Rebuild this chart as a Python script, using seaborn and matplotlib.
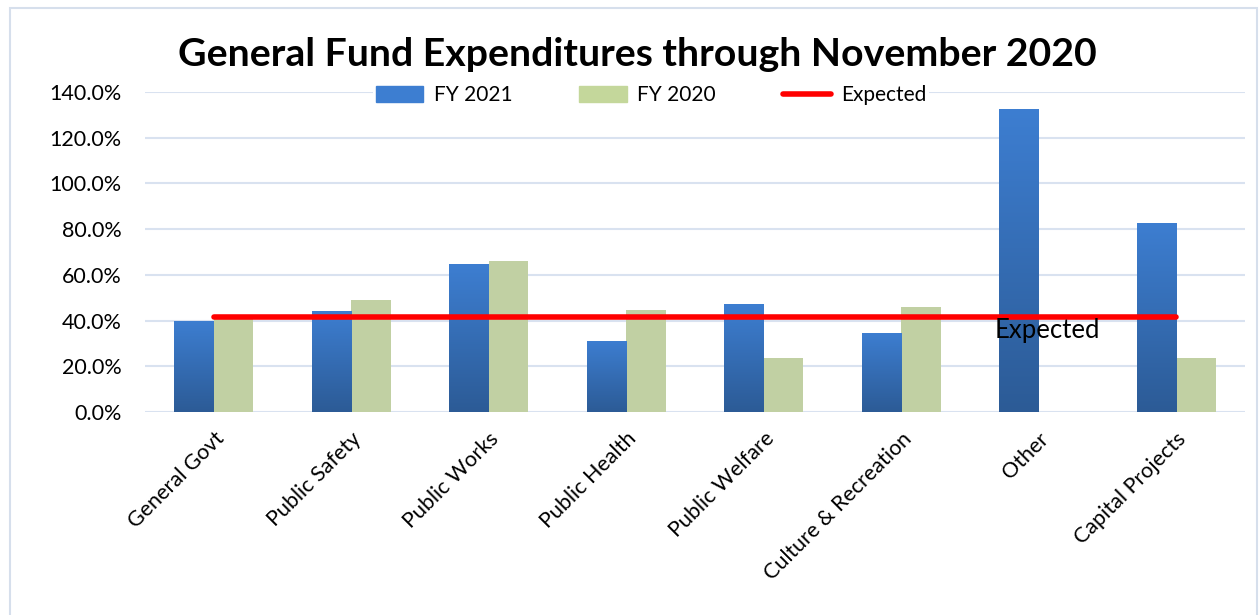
import numpy as np
import pandas as pd
import matplotlib.pyplot as plt
import seaborn as sns
from matplotlib.colors import LinearSegmentedColormap
from matplotlib.lines import Line2D
from matplotlib.patches import Rectangle
from matplotlib.ticker import FuncFormatter

# --- Values (percent of budget spent) ---------------------------------------
CATEGORIES = ["General Govt", "Public Safety", "Public Works", "Public Health",
              "Public Welfare", "Culture & Recreation", "Other", "Capital Projects"]
FY2021 = [40.0, 44.2, 64.7, 31.1, 47.2, 34.6, 132.5, 82.7]
FY2020 = [41.5, 49.1, 65.9, 44.8, 23.5, 45.9, 0.0, 23.5]
EXPECTED = [41.7, 41.7, 41.7, 41.7, 41.7, 41.7, 41.7, 41.7]   # 5 of 12 months
SERIES = ["FY 2021", "FY 2020"]
Y_TICKS = [0, 20, 40, 60, 80, 100, 120, 140]

df = pd.DataFrame({
    "category": CATEGORIES * 2,
    "series": [SERIES[0]] * len(CATEGORIES) + [SERIES[1]] * len(CATEGORIES),
    "pct": FY2021 + FY2020,
})
line_df = pd.DataFrame({"category": CATEGORIES, "pct": EXPECTED})

# --- Style ------------------------------------------------------------------
sns.set_theme(style="white")
plt.rcParams["font.family"] = ["Lato", "DejaVu Sans"]
plt.rcParams.update({"text.color": "black", "xtick.color": "black",
                     "ytick.color": "black"})
BLUE_TOP, BLUE_BOT = "#3D7ED1", "#2C5B96"
GREEN = "#C4D79B"
GRID = "#D9E2F0"

fig = plt.figure(figsize=(12.6, 6.15), dpi=100)
ax = fig.add_axes([145 / 1260, 1 - 412 / 615, 1100 / 1260, 320 / 615])

sns.barplot(data=df, x="category", y="pct", hue="series", hue_order=SERIES,
            palette={SERIES[0]: BLUE_TOP, SERIES[1]: GREEN}, width=0.575,
            linewidth=0, ax=ax, zorder=2)
ax.get_legend().remove()

sns.pointplot(data=line_df, x="category", y="pct", color="red", markers="",
              errorbar=None, legend=False, ax=ax, linewidth=4,
              solid_capstyle="round", zorder=4)

# vertical gradient on the FY 2021 bars
xlim, ylim = ax.get_xlim(), (0, 140)
cmap = LinearSegmentedColormap.from_list("fy21", [BLUE_BOT, BLUE_TOP])
grad = np.linspace(0, 1, 256).reshape(-1, 1)
for p in ax.containers[0]:
    if p.get_height() <= 0:
        continue
    x0, w, h = p.get_x(), p.get_width(), p.get_height()
    im = ax.imshow(grad, extent=(x0, x0 + w, 0, h), origin="lower", cmap=cmap,
                   aspect="auto", zorder=2.5)
    im.set_clip_path(p)
ax.set_xlim(xlim)
ax.set_ylim(ylim)

ax.annotate("Expected", (6, EXPECTED[6]), xytext=(6, -10),
            textcoords="offset points", ha="center", va="center",
            fontsize=18.5, zorder=5)

ax.set_yticks(Y_TICKS)
ax.yaxis.set_major_formatter(FuncFormatter(lambda v, _: f"{v:.1f}%"))
ax.yaxis.grid(True, color=GRID, linewidth=1.5)
ax.set_axisbelow(True)
for s in ax.spines.values():
    s.set_visible(False)
ax.set(xlabel="", ylabel="")
ax.tick_params(axis="y", length=0, pad=17, labelsize=15.5)
ax.tick_params(axis="x", length=0, pad=12, labelsize=15.5)
plt.setp(ax.get_xticklabels(), rotation=45, ha="right", rotation_mode="anchor")

handles = [Rectangle((0, 0), 1, 1, color=BLUE_TOP),
           Rectangle((0, 0), 1, 1, color=GREEN),
           Line2D([], [], color="red", linewidth=4, solid_capstyle="round")]
ax.legend(handles, SERIES + ["Expected"], loc="center", bbox_to_anchor=(0.46, 0.99),
          ncol=3, frameon=True, facecolor="white", edgecolor="none", framealpha=1,
          fontsize=15, handlelength=2.3, handleheight=0.8, handletextpad=0.5,
          columnspacing=3.2, borderpad=0.1)

fig.text(0.506, 1 - 55 / 615, "General Fund Expenditures through November 2020",
         ha="center", va="center", fontsize=28.3, fontweight="bold")

fig.patches.append(Rectangle((10 / 1260, -0.02), 1247 / 1260, 1.02 - 8 / 615,
                             transform=fig.transFigure, fill=False,
                             edgecolor="#D6DFEC", linewidth=1.5))

fig.savefig("out.png", dpi=100, facecolor="white")
